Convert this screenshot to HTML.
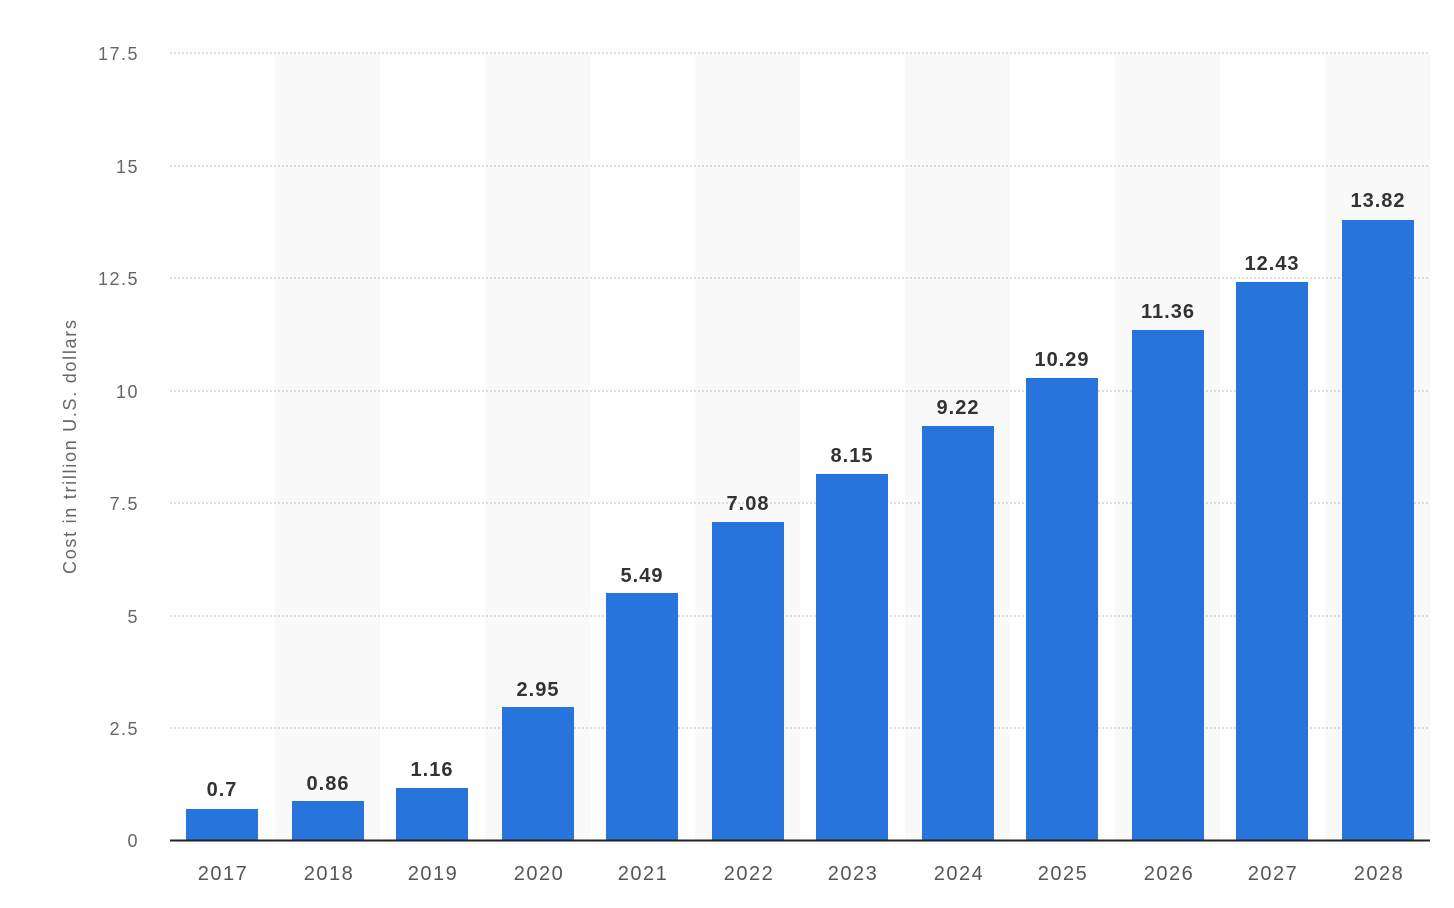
<!DOCTYPE html>
<html><head><meta charset="utf-8"><style>
html,body{margin:0;padding:0;background:#fff;}
svg{display:block;font-family:"Liberation Sans",sans-serif;}
</style></head><body>
<svg width="1454" height="908" viewBox="0 0 1454 908">
<g fill="#f9f9f9">
<rect x="275" y="53" width="105" height="787"/>
<rect x="485" y="53" width="105" height="787"/>
<rect x="695" y="53" width="105" height="787"/>
<rect x="905" y="53" width="105" height="787"/>
<rect x="1115" y="53" width="105" height="787"/>
<rect x="1325" y="53" width="105" height="787"/>
</g>
<g stroke="#bbb" stroke-width="1" stroke-dasharray="2,2">
<line x1="170" x2="1430" y1="53" y2="53"/>
<line x1="170" x2="1430" y1="166" y2="166"/>
<line x1="170" x2="1430" y1="278" y2="278"/>
<line x1="170" x2="1430" y1="391" y2="391"/>
<line x1="170" x2="1430" y1="503" y2="503"/>
<line x1="170" x2="1430" y1="616" y2="616"/>
<line x1="170" x2="1430" y1="728" y2="728"/>
</g>
<g fill="#666" font-size="18" text-anchor="end" letter-spacing="1.5">
<text x="139" y="60">17.5</text>
<text x="139" y="173">15</text>
<text x="139" y="285">12.5</text>
<text x="139" y="398">10</text>
<text x="139" y="510">7.5</text>
<text x="139" y="623">5</text>
<text x="139" y="735">2.5</text>
<text x="139" y="847">0</text>
</g>
<text transform="translate(76,447) rotate(-90)" fill="#666" font-size="18" text-anchor="middle" textLength="254" lengthAdjust="spacing">Cost in trillion U.S. dollars</text>
<g fill="#2775dc">
<rect x="186" y="809" width="72" height="31"/>
<rect x="292" y="801" width="72" height="39"/>
<rect x="396" y="788" width="72" height="52"/>
<rect x="502" y="707" width="72" height="133"/>
<rect x="606" y="593" width="72" height="247"/>
<rect x="712" y="522" width="72" height="318"/>
<rect x="816" y="474" width="72" height="366"/>
<rect x="922" y="426" width="72" height="414"/>
<rect x="1026" y="378" width="72" height="462"/>
<rect x="1132" y="330" width="72" height="510"/>
<rect x="1236" y="282" width="72" height="558"/>
<rect x="1342" y="220" width="72" height="620"/>
</g>
<line x1="170" x2="1430" y1="840.5" y2="840.5" stroke="#222" stroke-width="2"/>
<g fill="#333" font-size="20" font-weight="bold" text-anchor="middle" letter-spacing="1">
<text x="222" y="796">0.7</text>
<text x="328" y="790">0.86</text>
<text x="432" y="776">1.16</text>
<text x="538" y="696">2.95</text>
<text x="642" y="582">5.49</text>
<text x="748" y="510">7.08</text>
<text x="852" y="462">8.15</text>
<text x="958" y="414">9.22</text>
<text x="1062" y="366">10.29</text>
<text x="1168" y="318">11.36</text>
<text x="1272" y="270">12.43</text>
<text x="1378" y="207">13.82</text>
</g>
<g fill="#555" font-size="20" text-anchor="middle" letter-spacing="1.5">
<text x="223" y="880">2017</text>
<text x="329" y="880">2018</text>
<text x="433" y="880">2019</text>
<text x="539" y="880">2020</text>
<text x="643" y="880">2021</text>
<text x="749" y="880">2022</text>
<text x="853" y="880">2023</text>
<text x="959" y="880">2024</text>
<text x="1063" y="880">2025</text>
<text x="1169" y="880">2026</text>
<text x="1273" y="880">2027</text>
<text x="1379" y="880">2028</text>
</g>
</svg>
</body></html>
